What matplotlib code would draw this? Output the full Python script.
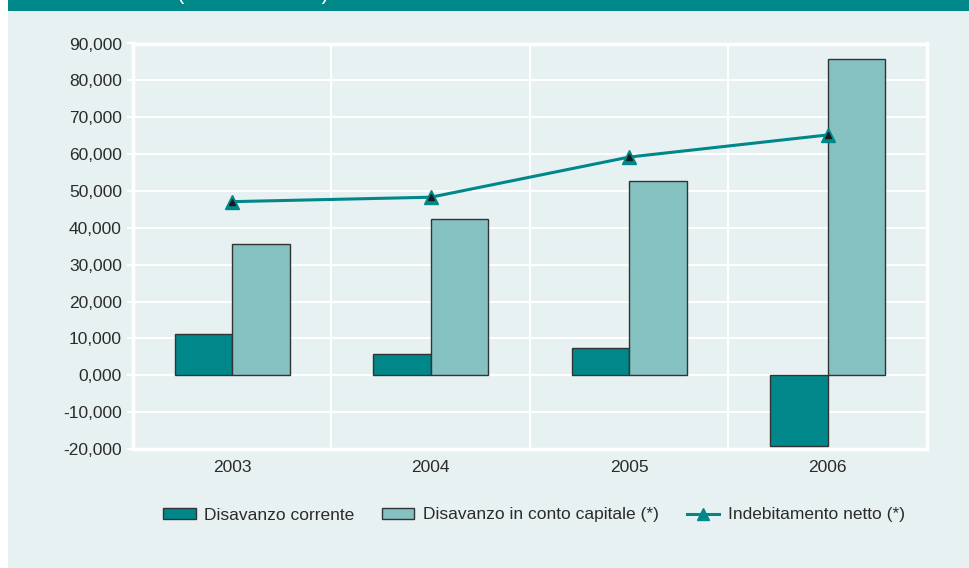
import matplotlib
matplotlib.use("Agg")
import matplotlib.pyplot as plt
from matplotlib.ticker import FuncFormatter, FixedLocator
from matplotlib.patches import Rectangle
from matplotlib.lines import Line2D

plt.rcParams['font.family'] = ['Liberation Sans', 'DejaVu Sans']

years = ["2003", "2004", "2005", "2006"]
disavanzo_corrente = [11200, 5900, 7300, -19200]
disavanzo_capitale = [35500, 42300, 52600, 85800]
indebitamento_netto = [47100, 48300, 59200, 65200]
yticks = [-20000, -10000, 0, 10000, 20000, 30000, 40000, 50000, 60000, 70000, 80000, 90000]

DARK = "#00878A"
LIGHT = "#85C1C1"
BG = "#E8F1F2"
TXT = "#2b2b2b"

fig = plt.figure(figsize=(9.7, 5.68), dpi=100)
fig.patch.set_facecolor("white")
W, H = 970, 568
# panel background and banner
fig.patches.append(Rectangle((8 / W, 0), 1 - 8 / W, 1, transform=fig.transFigure,
                             facecolor=BG, edgecolor="none", zorder=-10))
fig.patches.append(Rectangle((8 / W, 1 - 11 / H), 1 - 8 / W, 11 / H, transform=fig.transFigure,
                             facecolor=DARK, edgecolor="none", zorder=-5))
fig.text(177 / W, 1 + 1.5 / H, "(milioni di euro)", color="white", fontsize=16,
         va="baseline", ha="left", zorder=2)

ax = fig.add_axes([133 / W, 1 - 449 / H, (927 - 133) / W, (449 - 43.5) / H])
ax.set_facecolor(BG)

x = list(range(len(years)))
w = 0.29
ax.bar([i - w / 2 for i in x], disavanzo_corrente, width=w, color=DARK,
       edgecolor="#333333", linewidth=1.0, zorder=3, label="Disavanzo corrente")
ax.bar([i + w / 2 for i in x], disavanzo_capitale, width=w, color=LIGHT,
       edgecolor="#333333", linewidth=1.0, zorder=3, label="Disavanzo in conto capitale (*)")
ax.plot(x, indebitamento_netto, color=DARK, linewidth=2.2, marker="^",
        markersize=10, markerfacecolor=DARK, markeredgecolor=DARK, zorder=4)
ax.plot(x, indebitamento_netto, linestyle="none", marker="^", markersize=4,
        markerfacecolor="#1a1a1a", markeredgecolor="#1a1a1a", zorder=5)

ax.set_xlim(-0.5, 3.5)
ax.set_ylim(-20000, 90000)
ax.yaxis.set_major_locator(FixedLocator(yticks))
ax.yaxis.set_major_formatter(FuncFormatter(lambda v, p: f"{v / 1000:.3f}".replace(".", ",")))
ax.set_xticks(x)
ax.set_xticklabels(years)
ax.set_xticks([0.5, 1.5, 2.5], minor=True)

ax.grid(axis="y", which="major", color="white", linewidth=1.5, zorder=1)
ax.grid(axis="x", which="minor", color="white", linewidth=1.5, zorder=1)
ax.grid(axis="x", which="major", visible=False)
ax.set_axisbelow(True)

for s in ax.spines.values():
    s.set_color("white")
    s.set_linewidth(2.5)

ax.tick_params(axis="y", colors="white", labelcolor=TXT, labelsize=12.5, length=4, width=1.5, pad=4)
ax.tick_params(axis="x", which="both", length=0, labelcolor=TXT, labelsize=12.5, pad=8)

handles = [
    Rectangle((0, 0), 1, 1, facecolor=DARK, edgecolor="#333333", linewidth=1.0),
    Rectangle((0, 0), 1, 1, facecolor=LIGHT, edgecolor="#333333", linewidth=1.0),
    Line2D([0], [0], color=DARK, linewidth=2.2, marker="^", markersize=9,
           markerfacecolor=DARK, markeredgecolor=DARK),
]
labels = ["Disavanzo corrente", "Disavanzo in conto capitale (*)", "Indebitamento netto (*)"]
leg = fig.legend(handles, labels, loc="center", bbox_to_anchor=(534 / W, 1 - 515 / H),
                 ncol=3, frameon=False, fontsize=12.5, handlelength=1.85, handleheight=0.6,
                 handletextpad=0.5, columnspacing=1.6, labelcolor=TXT)

fig.savefig("out.png", dpi=100, facecolor=fig.get_facecolor())
